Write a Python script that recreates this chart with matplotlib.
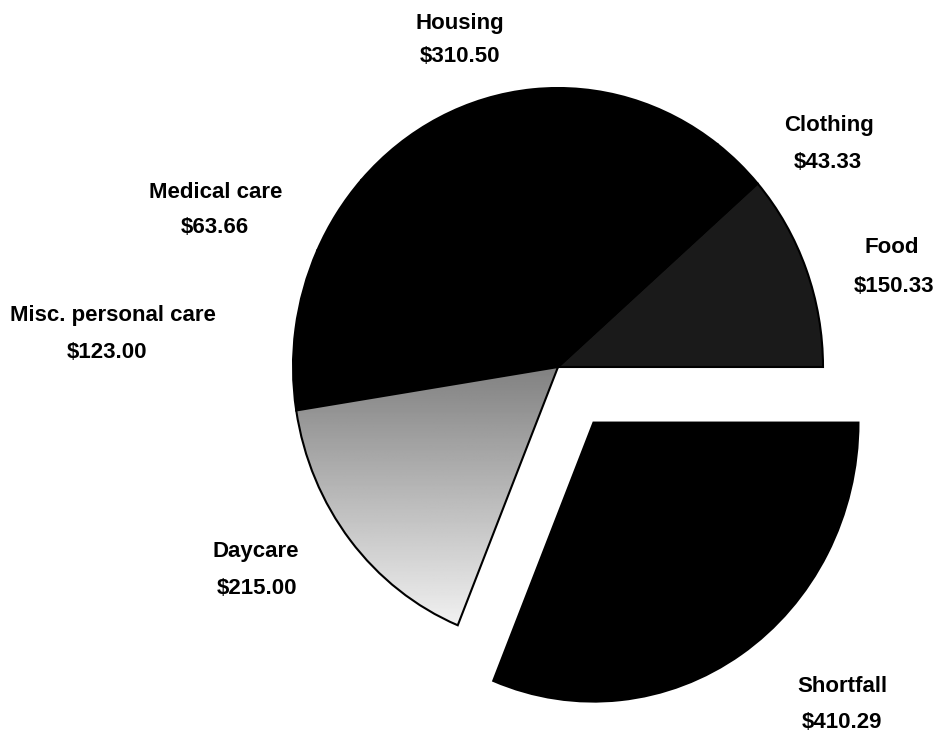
import matplotlib.pyplot as plt
import numpy as np

labels = ['Food', 'Clothing', 'Housing', 'Medical care', 'Misc. personal care', 'Daycare', 'Shortfall']
values = [150.33, 43.33, 310.50, 63.66, 123.00, 215.00, 410.29]
explode = [0, 0, 0, 0, 0, 0, 0.24]
colors = ['#1a1a1a', 'black', 'black', 'black', 'black', '#bbbbbb', 'black']

# label centres in pixels (x, y from top): name line, then value line
label_pos = [(892, 248), (829, 125), (460, 24), (216, 192), (113, 315), (256, 552), (842, 686)]
value_pos = [(894, 287), (828, 162), (460, 56), (215, 228), (107, 352), (257, 589), (842, 723)]

W, H = 939, 736
cx, cy, rx, ry = 558, 367, 265, 279

plt.rcParams['font.family'] = ['Liberation Sans', 'DejaVu Sans']
fig = plt.figure(figsize=(W / 100, H / 100), dpi=100)
ax = fig.add_axes([0, 0, 1, 1])

wedges, _ = ax.pie(values, explode=explode, colors=colors, startangle=0,
                   counterclock=True, wedgeprops=dict(edgecolor='black', linewidth=1.5))
ax.set_aspect('auto')
ax.set_xlim(-cx / rx, (W - cx) / rx)
ax.set_ylim((cy - H) / ry, cy / ry)

# Daycare has a gray-to-light screen
dc = wedges[5]
grad = np.linspace(0.42, 0.97, 256).reshape(-1, 1)
im = ax.imshow(grad, cmap='gray', vmin=0, vmax=1, extent=[-1.05, 0.05, -0.98, 0.18],
               origin='upper', aspect='auto', zorder=dc.get_zorder() + 0.1)
im.set_clip_path(dc)
dc.set_zorder(dc.get_zorder() + 0.2)
dc.set_facecolor('none')

for name, val, p1, p2 in zip(labels, values, label_pos, value_pos):
    fig.text(p1[0] / W, 1 - p1[1] / H, name, ha='center', va='center',
             fontsize=16, fontweight='bold')
    fig.text(p2[0] / W, 1 - p2[1] / H, f'${val:.2f}', ha='center', va='center',
             fontsize=16, fontweight='bold')

fig.savefig('out.png', dpi=100)
